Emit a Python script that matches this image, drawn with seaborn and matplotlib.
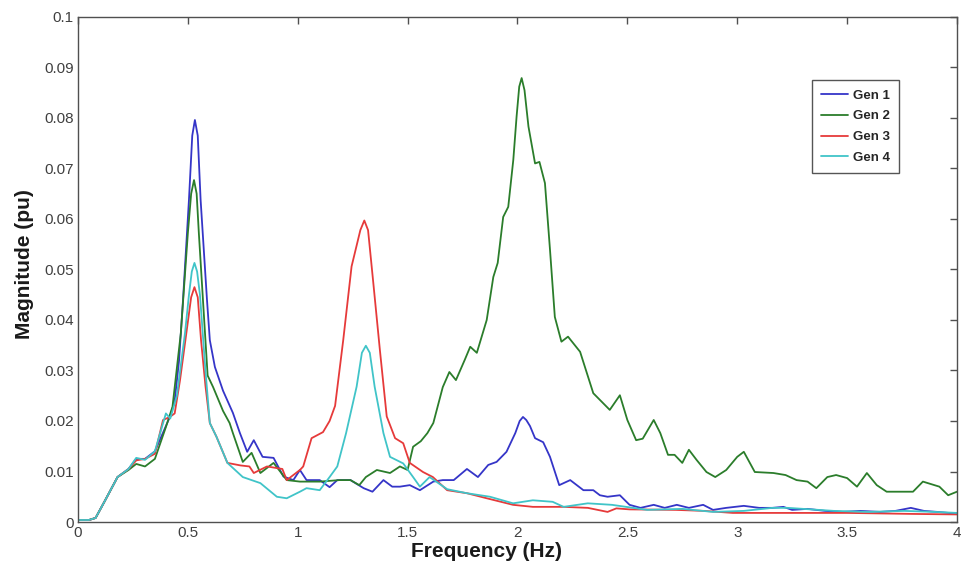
import numpy as np
import pandas as pd
import matplotlib
matplotlib.use("Agg")
import matplotlib.pyplot as plt
import seaborn as sns

# ---- data ----
f1 = [0, 0.05, 0.08, 0.12, 0.18, 0.23, 0.265, 0.305, 0.35, 0.40, 0.42, 0.44, 0.46, 0.478, 0.505, 0.52, 0.532,
      0.545, 0.558, 0.587, 0.60, 0.623, 0.66, 0.705, 0.737, 0.77, 0.80, 0.84, 0.89, 0.935, 0.98, 1.01, 1.04, 1.10,
      1.145, 1.18, 1.24, 1.30, 1.34, 1.39, 1.43, 1.465, 1.51, 1.556, 1.617, 1.66, 1.71, 1.77, 1.82, 1.867,
      1.905, 1.95, 1.99, 2.01, 2.025, 2.04, 2.057, 2.08, 2.117, 2.148, 2.19, 2.24, 2.30, 2.345, 2.375, 2.41,
      2.466, 2.51, 2.56, 2.62, 2.67, 2.725, 2.78, 2.845, 2.89, 2.95, 3.03, 3.10, 3.16, 3.21, 3.25, 3.32, 3.40,
      3.48, 3.56, 3.65, 3.72, 3.79, 3.85, 3.91, 3.96, 4.0]
m1 = [0.0004, 0.0004, 0.0008, 0.004, 0.0089, 0.0105, 0.0125, 0.0125, 0.014, 0.019, 0.021, 0.024, 0.032, 0.044,
      0.0638, 0.0765, 0.0796, 0.0765, 0.0638, 0.044, 0.036, 0.0307, 0.026, 0.0216, 0.0176, 0.0139, 0.0162,
      0.0129, 0.0127, 0.009, 0.0083, 0.0103, 0.0083, 0.0083, 0.0069, 0.0083, 0.0083, 0.0067, 0.006, 0.0083,
      0.007, 0.007, 0.0073, 0.0063, 0.008, 0.0083, 0.0083, 0.0105, 0.0089, 0.0113, 0.0119, 0.0139, 0.0176,
      0.0200, 0.0208, 0.0202, 0.0190, 0.0166, 0.0158, 0.0129, 0.0073, 0.0083, 0.0063, 0.0063, 0.0053, 0.005,
      0.0053, 0.0034, 0.0028, 0.0034, 0.0028, 0.0034, 0.0028, 0.0034, 0.0024, 0.0028, 0.0032, 0.0028, 0.0028,
      0.003, 0.0024, 0.0026, 0.0022, 0.002, 0.0022, 0.002, 0.0022, 0.0028, 0.0022, 0.002, 0.0018, 0.0016]

f2 = [0, 0.05, 0.08, 0.12, 0.18, 0.23, 0.265, 0.305, 0.35, 0.40, 0.43, 0.468, 0.50, 0.515, 0.528, 0.54, 0.55,
      0.578, 0.59, 0.615, 0.66, 0.69, 0.705, 0.75, 0.79, 0.83, 0.89, 0.95, 1.01, 1.10, 1.19, 1.24, 1.28, 1.31,
      1.36, 1.42, 1.465, 1.50, 1.525, 1.56, 1.59, 1.617, 1.66, 1.69, 1.72, 1.76, 1.785, 1.815, 1.86, 1.89,
      1.91, 1.935, 1.958, 1.981, 1.996, 2.008, 2.019, 2.032, 2.05, 2.08, 2.10, 2.125, 2.148, 2.17, 2.20, 2.23,
      2.285, 2.345, 2.42, 2.466, 2.50, 2.54, 2.57, 2.62, 2.65, 2.685, 2.715, 2.75, 2.78, 2.815, 2.86, 2.90,
      2.95, 3.0, 3.03, 3.08, 3.165, 3.22, 3.27, 3.32, 3.36, 3.41, 3.45, 3.50, 3.545, 3.59, 3.635, 3.68, 3.755,
      3.80, 3.845, 3.92, 3.96, 4.0]
m2 = [0.0004, 0.0004, 0.0008, 0.004, 0.0089, 0.0103, 0.0115, 0.011, 0.0125, 0.0188, 0.0228, 0.0374, 0.0572,
      0.0650, 0.0677, 0.0650, 0.0572, 0.0374, 0.029, 0.0267, 0.022, 0.0196, 0.0176, 0.0119, 0.0137, 0.0097,
      0.0117, 0.0083, 0.008, 0.008, 0.0083, 0.0083, 0.0073, 0.0089, 0.0103, 0.0097, 0.011, 0.0103, 0.0149,
      0.016, 0.0176, 0.0196, 0.0267, 0.0297, 0.0281, 0.0321, 0.0347, 0.0335, 0.04, 0.0485, 0.0513, 0.0604,
      0.0624, 0.0717, 0.0803, 0.0862, 0.0879, 0.0855, 0.0783, 0.071, 0.0713, 0.0671, 0.0539, 0.0406, 0.0357,
      0.0367, 0.0337, 0.0255, 0.0222, 0.0251, 0.0202, 0.0162, 0.0165, 0.0202, 0.0176, 0.0133, 0.0133, 0.0117,
      0.0143, 0.0123, 0.0099, 0.0089, 0.0103, 0.0129, 0.0139, 0.0099, 0.0097, 0.0093, 0.0083, 0.008, 0.0067,
      0.0089, 0.0093, 0.0087, 0.007, 0.0097, 0.0073, 0.006, 0.006, 0.006, 0.008, 0.007, 0.0053, 0.006]

f3 = [0, 0.05, 0.08, 0.12, 0.18, 0.23, 0.265, 0.305, 0.35, 0.387, 0.418, 0.44, 0.464, 0.495, 0.515, 0.53,
      0.545, 0.56, 0.58, 0.60, 0.63, 0.68, 0.74, 0.78, 0.80, 0.86, 0.93, 0.95, 1.01, 1.025, 1.063, 1.115,
      1.145, 1.17, 1.207, 1.245, 1.285, 1.303, 1.32, 1.344, 1.374, 1.405, 1.443, 1.48, 1.51, 1.57, 1.615,
      1.68, 1.77, 1.86, 1.98, 2.07, 2.21, 2.32, 2.41, 2.45, 2.51, 2.72, 2.85, 2.98, 3.2, 3.5, 3.8, 4.0]
m3 = [0.0004, 0.0004, 0.0008, 0.004, 0.0089, 0.0105, 0.0122, 0.0125, 0.0135, 0.0202, 0.0208, 0.0215, 0.028,
      0.038, 0.0445, 0.0465, 0.0445, 0.036, 0.027, 0.0196, 0.0169, 0.0117, 0.0112, 0.011, 0.0097, 0.011,
      0.0105, 0.0083, 0.0103, 0.011, 0.0166, 0.0178, 0.020, 0.023, 0.036, 0.0506, 0.0578, 0.0597, 0.0578,
      0.0473, 0.034, 0.0209, 0.0166, 0.0156, 0.0117, 0.0099, 0.0089, 0.0063, 0.0057, 0.0047, 0.0034, 0.003,
      0.003, 0.0028, 0.002, 0.0027, 0.0025, 0.0024, 0.0022, 0.0018, 0.0018, 0.0018, 0.0016, 0.0015]

f4 = [0, 0.05, 0.08, 0.12, 0.18, 0.23, 0.265, 0.305, 0.35, 0.40, 0.42, 0.45, 0.487, 0.505, 0.518, 0.53,
      0.542, 0.555, 0.58, 0.60, 0.63, 0.68, 0.70, 0.75, 0.83, 0.905, 0.95, 1.01, 1.04, 1.10, 1.145, 1.18,
      1.22, 1.268, 1.292, 1.31, 1.328, 1.35, 1.39, 1.42, 1.48, 1.525, 1.556, 1.60, 1.68, 1.77, 1.875, 1.98,
      2.07, 2.16, 2.21, 2.32, 2.43, 2.59, 2.75, 2.89, 3.03, 3.16, 3.23, 3.44, 3.6, 3.76, 3.9, 4.0]
m4 = [0.0004, 0.0004, 0.0008, 0.004, 0.0089, 0.0105, 0.0127, 0.0123, 0.014, 0.0215, 0.0205, 0.025, 0.0374,
      0.045, 0.0496, 0.0513, 0.0496, 0.045, 0.03, 0.0196, 0.0169, 0.0117, 0.0109, 0.0089, 0.0077, 0.005,
      0.0047, 0.006, 0.0067, 0.0063, 0.0089, 0.011, 0.0176, 0.0268, 0.0335, 0.0349, 0.0335, 0.0268, 0.0176,
      0.0129, 0.0116, 0.0089, 0.007, 0.0089, 0.0065, 0.0057, 0.005, 0.0037, 0.0043, 0.004, 0.003, 0.0037,
      0.0034, 0.0024, 0.0026, 0.002, 0.0022, 0.0028, 0.0028, 0.0022, 0.002, 0.0022, 0.002, 0.0018]

series_names = ["Gen 1", "Gen 2", "Gen 3", "Gen 4"]
x_ticks = [0, 0.5, 1, 1.5, 2, 2.5, 3, 3.5, 4]
x_tick_labels = ["0", "0.5", "1", "1.5", "2", "2.5", "3", "3.5", "4"]
y_ticks = [0, 0.01, 0.02, 0.03, 0.04, 0.05, 0.06, 0.07, 0.08, 0.09, 0.1]
y_tick_labels = ["0", "0.01", "0.02", "0.03", "0.04", "0.05", "0.06", "0.07", "0.08", "0.09", "0.1"]

frames = []
for name, f, m in zip(series_names, [f1, f2, f3, f4], [m1, m2, m3, m4]):
    frames.append(pd.DataFrame({"Frequency": f, "Magnitude": m, "Series": name}))
df = pd.concat(frames, ignore_index=True)

sns.set_theme(style="white")
plt.rcParams["font.family"] = ["Liberation Sans", "DejaVu Sans"]

fig = plt.figure(figsize=(9.64, 5.71), dpi=100)
ax = fig.add_axes([0.0809, 0.0858, 0.9118, 0.8845])

palette = {"Gen 1": "#3535c8", "Gen 2": "#2b7d2b", "Gen 3": "#e63a3a", "Gen 4": "#40c4c8"}
sns.lineplot(data=df, x="Frequency", y="Magnitude", hue="Series", palette=palette,
             estimator=None, sort=True, linewidth=1.3, ax=ax)

ax.set_xlim(0, 4)
ax.set_ylim(0, 0.1)
ax.set_xticks(x_ticks)
ax.set_xticklabels(x_tick_labels)
ax.set_yticks(y_ticks)
ax.set_yticklabels(y_tick_labels)
ax.tick_params(axis="both", which="both", direction="in", length=5, width=1,
               top=True, right=True, labelsize=11, colors="#505050",
               labelcolor="#404040", pad=3)
for s in ax.spines.values():
    s.set_visible(True)
    s.set_color("#505050")
    s.set_linewidth(1.0)

ax.set_xlabel("Frequency (Hz)", fontsize=15, fontweight="bold", color="#1a1a1a")
ax.set_ylabel("Magnitude (pu)", fontsize=15, fontweight="bold", color="#1a1a1a")
ax.xaxis.set_label_coords(0.465, -0.040)
ax.yaxis.set_label_coords(-0.050, 0.511)

leg = ax.legend(loc="upper left", bbox_to_anchor=(0.835, 0.875), borderaxespad=0,
                prop={"weight": "bold", "size": 9.5}, handlelength=2.0, handletextpad=0.4,
                borderpad=0.7, labelspacing=0.65, fancybox=False, framealpha=1, edgecolor="#555555")
leg.get_frame().set_linewidth(1.0)
for line in leg.get_lines():
    line.set_linewidth(1.3)

fig.savefig("out.png", dpi=100, facecolor="white")
